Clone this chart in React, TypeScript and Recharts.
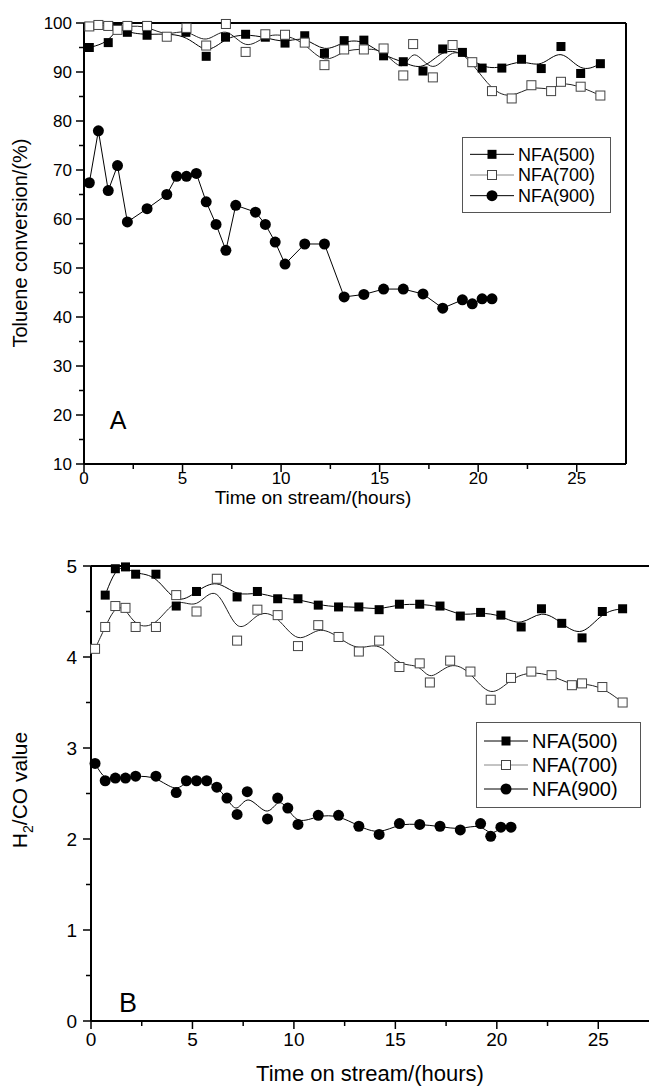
import { LineChart, Line, XAxis, YAxis, ReferenceLine, Legend } from 'recharts';

// ---- data ----
const A500_T = [0.27, 1.23, 1.7, 2.2, 3.2, 5.17, 6.2, 7.18, 8.2, 9.2, 10.2, 11.2, 12.2, 13.2, 14.2, 15.2, 16.2, 17.2, 18.2, 19.2, 20.2, 21.2, 22.2, 23.2, 24.2, 25.2, 26.2];
const A500_V = [95.0, 96.0, 99.2, 98.1, 97.5, 98.1, 93.2, 97.1, 97.7, 97.1, 95.9, 97.4, 93.8, 96.4, 96.5, 93.3, 92.1, 90.2, 94.7, 94.0, 90.8, 90.8, 92.6, 90.7, 95.2, 89.7, 91.7];

const A700_T = [0.27, 0.73, 1.23, 1.7, 2.2, 3.2, 4.2, 5.2, 6.2, 7.2, 8.2, 9.2, 10.2, 11.2, 12.2, 13.2, 14.2, 15.2, 16.2, 16.7, 17.7, 18.7, 19.7, 20.7, 21.7, 22.7, 23.7, 24.2, 25.2, 26.2];
const A700_V = [99.3, 99.6, 99.4, 98.6, 99.4, 99.4, 97.2, 99.0, 95.4, 99.8, 94.1, 97.7, 97.6, 96.0, 91.4, 94.6, 94.6, 94.8, 89.3, 95.7, 88.9, 95.5, 92.0, 86.1, 84.6, 87.3, 86.1, 88.0, 87.0, 85.2];

const A900_T = [0.27, 0.73, 1.23, 1.7, 2.2, 3.2, 4.2, 4.7, 5.2, 5.7, 6.2, 6.7, 7.2, 7.7, 8.7, 9.2, 9.7, 10.2, 11.2, 12.2, 13.2, 14.2, 15.2, 16.2, 17.2, 18.2, 19.2, 19.7, 20.2, 20.7];
const A900_V = [67.4, 78.0, 65.8, 70.9, 59.4, 62.1, 65.0, 68.7, 68.7, 69.3, 63.5, 58.9, 53.6, 62.8, 61.4, 58.9, 55.3, 50.8, 54.9, 54.9, 44.1, 44.6, 45.7, 45.7, 44.7, 41.8, 43.5, 42.7, 43.7, 43.7];

const B500_T = [0.7, 1.2, 1.7, 2.2, 3.2, 4.2, 5.2, 6.2, 7.2, 8.2, 9.2, 10.2, 11.2, 12.2, 13.2, 14.2, 15.2, 16.2, 17.2, 18.2, 19.2, 20.2, 21.2, 22.2, 23.2, 24.2, 25.2, 26.2];
const B500_V = [4.68, 4.97, 4.99, 4.91, 4.91, 4.56, 4.72, 4.86, 4.66, 4.72, 4.64, 4.64, 4.57, 4.55, 4.55, 4.52, 4.58, 4.58, 4.56, 4.45, 4.49, 4.46, 4.33, 4.53, 4.37, 4.21, 4.50, 4.53];

const B700_T = [0.2, 0.7, 1.2, 1.7, 2.2, 3.2, 4.2, 5.2, 6.2, 7.2, 8.2, 9.2, 10.2, 11.2, 12.2, 13.2, 14.2, 15.2, 16.2, 16.7, 17.7, 18.7, 19.7, 20.7, 21.7, 22.7, 23.7, 24.2, 25.2, 26.2];
const B700_V = [4.09, 4.33, 4.56, 4.54, 4.33, 4.33, 4.68, 4.50, 4.86, 4.18, 4.52, 4.46, 4.12, 4.35, 4.22, 4.06, 4.18, 3.89, 3.93, 3.72, 3.96, 3.84, 3.53, 3.77, 3.84, 3.80, 3.69, 3.71, 3.67, 3.50];

const B900_T = [0.2, 0.7, 1.2, 1.7, 2.2, 3.2, 4.2, 4.7, 5.2, 5.7, 6.2, 6.7, 7.2, 7.7, 8.7, 9.2, 9.7, 10.2, 11.2, 12.2, 13.2, 14.2, 15.2, 16.2, 17.2, 18.2, 19.2, 19.7, 20.2, 20.7];
const B900_V = [2.83, 2.64, 2.67, 2.67, 2.69, 2.69, 2.51, 2.64, 2.64, 2.64, 2.57, 2.45, 2.27, 2.52, 2.22, 2.45, 2.34, 2.16, 2.26, 2.26, 2.14, 2.05, 2.17, 2.16, 2.14, 2.10, 2.17, 2.03, 2.13, 2.13];

const X_MAJOR = [0, 5, 10, 15, 20, 25];
const X_MINOR = [2.5, 7.5, 12.5, 17.5, 22.5];
const A_Y_MAJOR = [10, 20, 30, 40, 50, 60, 70, 80, 90, 100];
const A_Y_MINOR = [15, 25, 35, 45, 55, 65, 75, 85, 95];
const B_Y_MAJOR = [0, 1, 2, 3, 4, 5];
const B_Y_MINOR = [0.5, 1.5, 2.5, 3.5, 4.5];

const SERIES = ['NFA(500)', 'NFA(700)', 'NFA(900)'];

const FONT = '"Liberation Sans", Arial, sans-serif';
const pts = (t: number[], v: number[]) => t.map((x, i) => ({ x, y: v[i] }));

const filledSquare = (p: any) => (
  <rect key={`f${p.index}`} x={p.cx - 4.5} y={p.cy - 4.5} width={9} height={9} fill="#000" />
);
const openSquare = (p: any) => (
  <rect key={`o${p.index}`} x={p.cx - 4.5} y={p.cy - 4.5} width={9} height={9} fill="#fff" stroke="#444" strokeWidth={1} />
);
const circle = (p: any) => <circle key={`c${p.index}`} cx={p.cx} cy={p.cy} r={5.5} fill="#000" />;

function makeXTick(major: number[], fontSize: number, dy: number) {
  return (props: any) => {
    const { x, y, payload } = props;
    const isMajor = major.includes(payload.value);
    return (
      <g>
        <line x1={x} x2={x} y1={y} y2={y + (isMajor ? 8 : 5)} stroke="#000" strokeWidth={1.5} />
        {isMajor && (
          <text x={x} y={y + dy} textAnchor="middle" fontSize={fontSize} fontFamily={FONT} fill="#000">
            {payload.value}
          </text>
        )}
      </g>
    );
  };
}

function makeYTick(major: number[], fontSize: number, gap: number) {
  return (props: any) => {
    const { x, y, payload } = props;
    const isMajor = major.includes(payload.value);
    return (
      <g>
        <line x1={x} x2={x - (isMajor ? 8 : 5)} y1={y} y2={y} stroke="#000" strokeWidth={1.5} />
        {isMajor && (
          <text x={x - gap} y={y + fontSize * 0.36} textAnchor="end" fontSize={fontSize} fontFamily={FONT} fill="#000">
            {payload.value}
          </text>
        )}
      </g>
    );
  };
}

function makeLegend(fontSize: number, w: number, h: number) {
  return () => (
    <svg width={w} height={h} style={{ display: 'block' }}>
      <rect x={0.5} y={0.5} width={w - 1} height={h - 1} fill="#fff" stroke="#555" strokeWidth={1} />
      {SERIES.map((name, i) => {
        const cy = h / 2 + (i - 1) * (h - 14) / 3;
        return (
          <g key={name}>
            <line x1={8} x2={52} y1={cy} y2={cy} stroke={i === 1 ? '#888' : '#000'} strokeWidth={1} />
            {i === 0 && <rect x={25.5} y={cy - 4.5} width={9} height={9} fill="#000" />}
            {i === 1 && <rect x={25.5} y={cy - 4.5} width={9} height={9} fill="#fff" stroke="#444" />}
            {i === 2 && <circle cx={30} cy={cy} r={5.5} fill="#000" />}
            <text x={56} y={cy + fontSize * 0.36} fontSize={fontSize} fontFamily={FONT} fill="#000">
              {name}
            </text>
          </g>
        );
      })}
    </svg>
  );
}

export default function App() {
  return (
    <div style={{ position: 'absolute', left: 0, top: 0, width: 649, height: 1091, overflow: 'hidden', background: '#fff', fontFamily: FONT }}>
      {/* Panel A */}
      <div style={{ position: 'absolute', left: 0, top: 0 }}>
        <LineChart width={649} height={545} margin={{ top: 23, right: 23, bottom: 0, left: 0 }}>
          <XAxis type="number" dataKey="x" domain={[0, 27.5]} ticks={[...X_MAJOR, ...X_MINOR]} interval={0}
            height={81} tickSize={0} tickMargin={0} tick={makeXTick(X_MAJOR, 17, 20)} axisLine={{ stroke: '#000', strokeWidth: 2 }} />
          <YAxis type="number" domain={[10, 100]} ticks={[...A_Y_MAJOR, ...A_Y_MINOR]} interval={0}
            width={84} tickSize={0} tickMargin={0} tick={makeYTick(A_Y_MAJOR, 17, 12)} axisLine={{ stroke: '#000', strokeWidth: 2 }} />
          <ReferenceLine y={100} stroke="#000" strokeWidth={2} />
          <ReferenceLine x={27.5} stroke="#000" strokeWidth={2} />
          <Legend layout="vertical" align="center" verticalAlign="middle" content={makeLegend(18, 149, 76)}
            wrapperStyle={{ position: 'absolute', left: 462, top: 137, width: 149, height: 76 }} />
          <Line data={pts(A500_T, A500_V)} dataKey="y" name={SERIES[0]} type="basis" stroke="#000" strokeWidth={1} dot={filledSquare} isAnimationActive={false} />
          <Line data={pts(A700_T, A700_V)} dataKey="y" name={SERIES[1]} type="basis" stroke="#222" strokeWidth={1} dot={openSquare} isAnimationActive={false} />
          <Line data={pts(A900_T, A900_V)} dataKey="y" name={SERIES[2]} type="linear" stroke="#000" strokeWidth={1} dot={circle} isAnimationActive={false} />
        </LineChart>
        <div style={{ position: 'absolute', left: 313, top: 497, transform: 'translate(-50%, -50%)', fontSize: 19, lineHeight: 1, whiteSpace: 'nowrap' }}>
          Time on stream/(hours)
        </div>
        <div style={{ position: 'absolute', left: 20, top: 243, transform: 'translate(-50%, -50%) rotate(-90deg)', fontSize: 20, lineHeight: 1, whiteSpace: 'nowrap' }}>
          Toluene conversion/(%)
        </div>
        <div style={{ position: 'absolute', left: 118, top: 420, transform: 'translate(-50%, -50%)', fontSize: 25 }}>A</div>
      </div>

      {/* Panel B */}
      <div style={{ position: 'absolute', left: 0, top: 545 }}>
        <LineChart width={649} height={546} margin={{ top: 21, right: 0, bottom: 0, left: 0 }}>
          <XAxis type="number" dataKey="x" domain={[0, 27.5]} ticks={[...X_MAJOR, ...X_MINOR]} interval={0}
            height={70} tickSize={0} tickMargin={0} tick={makeXTick(X_MAJOR, 19, 25)} axisLine={{ stroke: '#000', strokeWidth: 2 }} />
          <YAxis type="number" domain={[0, 5]} ticks={[...B_Y_MAJOR, ...B_Y_MINOR]} interval={0}
            width={91} tickSize={0} tickMargin={0} tick={makeYTick(B_Y_MAJOR, 19, 14)} axisLine={{ stroke: '#000', strokeWidth: 2 }} />
          <ReferenceLine y={5} stroke="#000" strokeWidth={2} />
          <Legend layout="vertical" align="center" verticalAlign="middle" content={makeLegend(20, 165, 86)}
            wrapperStyle={{ position: 'absolute', left: 476, top: 177, width: 165, height: 86 }} />
          <Line data={pts(B500_T, B500_V)} dataKey="y" name={SERIES[0]} type="basis" stroke="#000" strokeWidth={1} dot={filledSquare} isAnimationActive={false} />
          <Line data={pts(B700_T, B700_V)} dataKey="y" name={SERIES[1]} type="basis" stroke="#222" strokeWidth={1} dot={openSquare} isAnimationActive={false} />
          <Line data={pts(B900_T, B900_V)} dataKey="y" name={SERIES[2]} type="basis" stroke="#000" strokeWidth={1} dot={circle} isAnimationActive={false} />
        </LineChart>
        <div style={{ position: 'absolute', left: 370, top: 529, transform: 'translate(-50%, -50%)', fontSize: 22, lineHeight: 1, whiteSpace: 'nowrap' }}>
          Time on stream/(hours)
        </div>
        <div style={{ position: 'absolute', left: 22, top: 245, transform: 'translate(-50%, -50%) rotate(-90deg)', fontSize: 21, lineHeight: 1, whiteSpace: 'nowrap' }}>
          H<sub style={{ fontSize: 14 }}>2</sub>/CO value
        </div>
        <div style={{ position: 'absolute', left: 128, top: 458, transform: 'translate(-50%, -50%)', fontSize: 27 }}>B</div>
      </div>
    </div>
  );
}
